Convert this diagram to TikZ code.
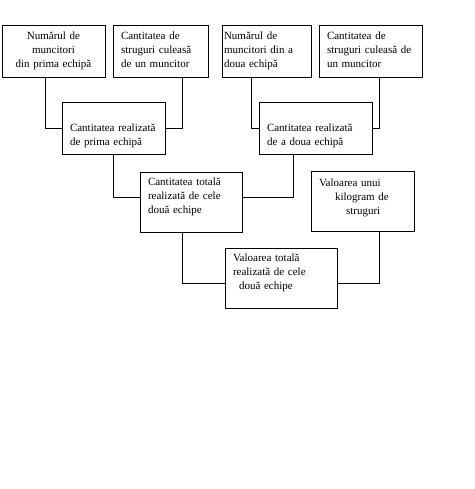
\documentclass[tikz,border=0pt]{standalone}
\usepackage{fontspec}
\setmainfont{Liberation Serif}
\usepackage{tikz}
\usetikzlibrary{calc}
\tikzset{bx/.style={draw,line width=.8pt,inner xsep=8pt,inner ysep=0pt,align=left,font=\fontsize{11}{14}\selectfont}}
\tikzset{top/.style={text height=14.3pt,text depth=37.7pt}}
\tikzset{mid/.style={text height=29.5pt,text depth=22.5pt}}
\tikzset{ln/.style={line width=.8pt}}

\begin{document}
\begin{tikzpicture}[x=1pt,y=-1pt]
        \useasboundingbox (0,0) rectangle (474,489);
        \node[bx,top,text width=87pt,align=center] (N1) at (53.5,51) {Numărul de\\ muncitori\\ din prima echipă};
        \node[bx,top,text width=79pt] (C1) at (160.5,51) {Cantitatea de\\ struguri culeasă\\ de un muncitor};
        \node[bx,top,text width=85pt,inner xsep=2pt] (N2) at (266.5,51) {Numărul de\\ muncitori din a\\ doua echipă};
        \node[bx,top,text width=87pt] (C2) at (370.5,51) {Cantitatea de\\ struguri culeasă de\\ un muncitor};
        \node[bx,mid,text width=87pt] (R1) at (113.5,128) {Cantitatea realizată\\ de prima echipă};
        \node[bx,mid,text width=97pt] (R2) at (315.5,128) {Cantitatea realizată\\ de a doua echipă};
        \node[bx,text height=13.3pt,text depth=46.7pt,text width=86pt] (T) at (191,202) {Cantitatea totală\\ realizată de cele\\ două echipe};
        \node[bx,text height=15pt,text depth=45pt,text width=87pt] (K) at (362.5,201) {Valoarea unui\\ \hspace*{16pt}kilogram de\\ \hspace*{27pt}struguri};
        \node[bx,text height=13.4pt,text depth=46.6pt,text width=96pt] (V) at (281,278) {Valoarea totală\\ realizată de cele\\ \hspace*{6pt}două echipe};
        \draw[ln] ([xshift=-8.5pt]N1.south) |- (R1.west);
        \draw[ln] ([xshift=21.5pt]C1.south) |- (R1.east);
        \draw[ln] ([xshift=-15.5pt]N2.south) |- (R2.west);
        \draw[ln] ([xshift=8.5pt]C2.south) |- (R2.east);
        \draw[ln] (R1.south) |- ([yshift=5pt]T.west);
        \draw[ln] ([xshift=-22.5pt]R2.south) |- ([yshift=5pt]T.east);
        \draw[ln] ([xshift=-9pt]T.south) |- ([yshift=-5pt]V.west);
        \draw[ln] ([xshift=16.5pt]K.south) |- ([yshift=-5pt]V.east);
      \end{tikzpicture}
\end{document}
